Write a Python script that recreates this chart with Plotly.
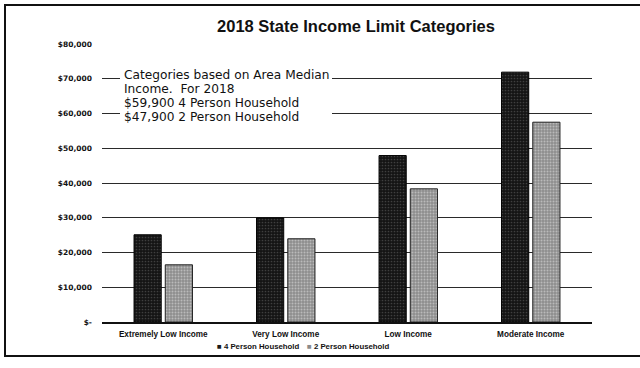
import plotly.graph_objects as go

categories = ["Extremely Low Income", "Very Low Income", "Low Income", "Moderate Income"]
series_names = ["4 Person Household", "2 Person Household"]
four_person = [25100, 29950, 47900, 71900]
two_person = [16460, 23950, 38320, 57500]
tick_vals = [0, 10000, 20000, 30000, 40000, 50000, 60000, 70000, 80000]
tick_text = ["$-", "$10,000", "$20,000", "$30,000", "$40,000", "$50,000", "$60,000", "$70,000", "$80,000"]
note_lines = ["Categories based on Area Median", "Income.  For 2018",
              "$59,900 4 Person Household", "$47,900 2 Person Household"]

W, H = 640, 368
L, R, T, B = 102, 48, 44, 46
pw, ph = W - L - R, H - T - B

def px(x):
    return (x - L) / pw

def py(y):
    return (H - B - y) / ph

dark, light = "#1a1a1a", "#a8a8a8"

fig = go.Figure()
fig.add_trace(go.Bar(
    x=categories, y=four_person, name=series_names[0],
    marker=dict(color=dark, line=dict(color="#000", width=1),
                pattern=dict(shape=".", fgcolor="#6a6a6a", bgcolor="#141414", size=3, solidity=0.25)),
))
fig.add_trace(go.Bar(
    x=categories, y=two_person, name=series_names[1],
    marker=dict(color=light, line=dict(color="#222", width=1),
                pattern=dict(shape=".", fgcolor="#e6e6e6", bgcolor="#8e8e8e", size=3, solidity=0.35)),
))

fig.update_layout(
    width=W, height=H,
    margin=dict(l=L, r=R, t=T, b=B),
    paper_bgcolor="white", plot_bgcolor="white",
    barmode="group", bargap=0.49, bargroupgap=0.13,
    title=dict(text="<b>2018 State Income Limit Categories</b>", xref="container", x=356 / W, xanchor="center",
               y=(H - 26) / H, yanchor="middle",
               font=dict(family="Liberation Sans", size=16.5, color="#111")),
    font=dict(family="Liberation Sans", color="#111"),
    showlegend=False,
    xaxis=dict(showgrid=False, showline=True, linecolor="#111", linewidth=1.5,
               tickfont=dict(size=8.2, family="Liberation Sans", color="#111"),
               ticks="", tickprefix="<b>", ticksuffix="</b>", ticklabelstandoff=3),
    yaxis=dict(range=[0, 80000], tickvals=tick_vals, ticktext=["<b>" + t + "</b>" for t in tick_text],
               showgrid=True, gridcolor="#2a2a2a", gridwidth=1, zeroline=False,
               tickfont=dict(size=7.5, family="DejaVu Sans", color="#111"), ticks="",
               ticklabelstandoff=9),
)

# white mask behind the note text
fig.add_shape(type="rect", xref="paper", yref="paper",
              x0=px(120), x1=px(332), y0=py(124), y1=py(67),
              line=dict(width=0), fillcolor="white", layer="above")

for i, line in enumerate(note_lines):
    fig.add_annotation(
        x=px(122), y=py(75 + 14 * i), xref="paper", yref="paper", xanchor="left", yanchor="middle",
        align="left", showarrow=False, text=line,
        font=dict(family="DejaVu Sans", size=12.2, color="#111"),
    )

# legend drawn as text
legend_x = [215, 305]
legend_col = [dark, "#8a8a8a"]
for name, x, c in zip(series_names, legend_x, legend_col):
    fig.add_annotation(
        x=px(x), y=py(347), xref="paper", yref="paper", xanchor="left", yanchor="middle",
        showarrow=False,
        text=f"<span style='color:{c}'>■</span><b> {name}</b>",
        font=dict(family="Liberation Sans", size=7.8, color="#111"),
    )

fig.add_shape(type="rect", xref="paper", yref="paper",
              x0=px(5), x1=px(650), y0=py(356), y1=py(5),
              line=dict(color="#111", width=2), fillcolor="rgba(0,0,0,0)", layer="below")

fig.write_html("out.html")
